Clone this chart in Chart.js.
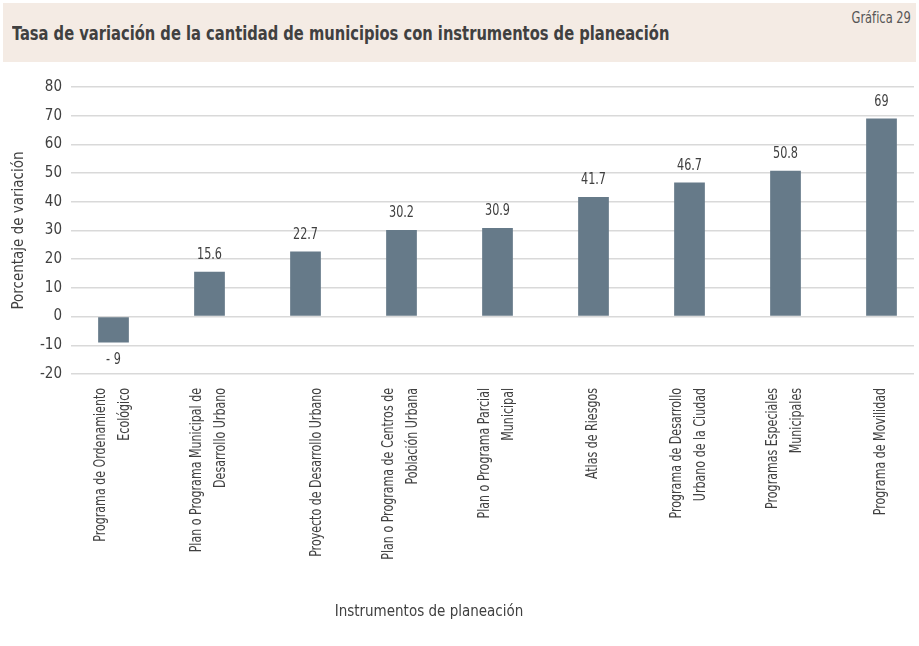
<!DOCTYPE html>
<html lang="es">
<head>
<meta charset="utf-8">
<title>Gráfica 29</title>
<script src="https://cdn.jsdelivr.net/npm/chart.js@4.4.1/dist/chart.umd.min.js"></script>
<style>
  html, body { margin: 0; padding: 0; background: #fff; }
  body {
    width: 919px; height: 646px; position: relative; overflow: hidden;
    font-family: 'Liberation Sans Narrow', 'DejaVu Sans Condensed', 'Roboto Condensed', 'Noto Sans', sans-serif;
    color: #404040;
  }
  #cabecera { position: absolute; left: 3px; top: 3px; width: 913px; height: 59px; background: #f4ebe4; }
  #titulo { position: absolute; left: 9px; top: 19px; font-weight: bold; font-size: 19px; line-height: 22px; white-space: nowrap; transform: scaleX(0.86); transform-origin: left center; }
  #numero { position: absolute; right: 5px; top: 5px; font-size: 15px; line-height: 20px; color: #555; transform: scaleX(0.85); transform-origin: right center; }
  #lienzo { position: absolute; left: 0; top: 0; width: 919px; height: 646px; }
  #titulo-x { position: absolute; top: 601px; left: 0; width: 858px; text-align: center; font-size: 15px; line-height: 20px; }
</style>
</head>
<body>
<div id="cabecera">
  <div id="titulo">Tasa de variación de la cantidad de municipios con instrumentos de planeación</div>
  <div id="numero">Gráfica 29</div>
</div>
<div id="lienzo"><canvas id="grafico" width="919" height="646"></canvas></div>
<div id="titulo-x">Instrumentos de planeación</div>

<script>
const FUENTE = "'Liberation Sans Narrow', 'DejaVu Sans Condensed', 'Roboto Condensed', 'Noto Sans', sans-serif";

// datos
const instrumentos = [
    ['Programa de Ordenamiento', 'Ecológico'],
    ['Plan o Programa Municipal de', 'Desarrollo Urbano'],
    ['', 'Proyecto de Desarrollo Urbano'],
    ['Plan o Programa de Centros de', 'Población Urbana'],
    ['Plan o Programa Parcial', 'Municipal'],
    'Atlas de Riesgos',
    ['Programa de Desarrollo', 'Urbano de la Ciudad'],
    ['Programas Especiales', 'Municipales'],
    'Programa de Movilidad'
];
const variacion = [-9, 15.6, 22.7, 30.2, 30.9, 41.7, 46.7, 50.8, 69];
const ejeYMin = -20;
const ejeYMax = 80;
const ejeYPaso = 10;

function formatoValor(v) {
    return v < 0 ? '- ' + Math.abs(v) : String(v);
}

// etiquetas de valor sobre / bajo cada barra (letra estrecha)
const etiquetasValor = {
    id: 'etiquetasValor',
    afterDatasetsDraw(chart) {
        const ctx = chart.ctx;
        const meta = chart.getDatasetMeta(0);
        ctx.save();
        ctx.font = '16px ' + FUENTE;
        ctx.fillStyle = '#404040';
        ctx.textAlign = 'center';
        ctx.textBaseline = 'middle';
        meta.data.forEach((barra, i) => {
            const v = variacion[i];
            const y = v < 0 ? barra.y + 17 : barra.y - 17;
            ctx.save();
            ctx.translate(barra.x, y);
            ctx.scale(0.78, 1);
            ctx.fillText(formatoValor(v), 0, 0);
            ctx.restore();
        });
        ctx.restore();
    }
};

// etiquetas de categoría giradas, con las líneas centradas en la marca
const etiquetasEjeX = {
    id: 'etiquetasEjeX',
    afterDraw(chart) {
        const x = chart.scales.x;
        const ctx = chart.ctx;
        const base = chart.chartArea.bottom + 14;
        ctx.save();
        ctx.font = '15px ' + FUENTE;
        ctx.fillStyle = '#404040';
        ctx.textAlign = 'right';
        ctx.textBaseline = 'middle';
        instrumentos.forEach((etiqueta, i) => {
            const lineas = Array.isArray(etiqueta) ? etiqueta : [etiqueta];
            const px = x.getPixelForTick(i);
            lineas.forEach((texto, j) => {
                const cx = px + (j - (lineas.length - 1) / 2) * 24;
                ctx.save();
                ctx.translate(cx, base);
                ctx.rotate(-Math.PI / 2);
                ctx.scale(0.82, 1);
                ctx.fillText(texto, 0, 0);
                ctx.restore();
            });
        });
        ctx.restore();
    }
};

// el eje de categorías es algo más ancho que la rejilla
const ajusteEjeX = {
    id: 'ajusteEjeX',
    afterLayout(chart) {
        const x = chart.scales.x;
        x.left = 65.5;
        x.right = 929.5;
        x.width = x.right - x.left;
        x.configure();
    }
};

document.addEventListener('DOMContentLoaded', function() {
    const ctx = document.getElementById('grafico').getContext('2d');
    new Chart(ctx, {
        type: 'bar',
        data: {
            labels: instrumentos,
            datasets: [{
                label: 'Tasa de variación',
                data: variacion,
                backgroundColor: '#667a89',
                borderWidth: 0,
                categoryPercentage: 1,
                barPercentage: 0.32
            }]
        },
        options: {
            responsive: false,
            animation: false,
            layout: { padding: { top: 87, right: 5, left: 0, bottom: 0 } },
            plugins: {
                legend: { display: false },
                tooltip: { enabled: false }
            },
            scales: {
                x: {
                    grid: { display: false, drawTicks: false },
                    border: { display: false },
                    ticks: { display: false, autoSkip: false },
                    afterFit: s => { s.height = 272; }
                },
                y: {
                    min: ejeYMin,
                    max: ejeYMax,
                    grid: { color: '#d9d9d9', lineWidth: 1.5, drawTicks: false },
                    border: { display: false },
                    ticks: {
                        stepSize: ejeYPaso,
                        padding: 9,
                        color: '#404040',
                        font: { family: FUENTE, size: 15 }
                    },
                    title: {
                        display: true,
                        text: 'Porcentaje de variación',
                        color: '#404040',
                        padding: { top: 10, bottom: 0 },
                        font: { family: FUENTE, size: 15 }
                    },
                    afterFit: s => { s.width = 71; }
                }
            }
        },
        plugins: [etiquetasValor, etiquetasEjeX, ajusteEjeX]
    });
});
</script>
</body>
</html>
